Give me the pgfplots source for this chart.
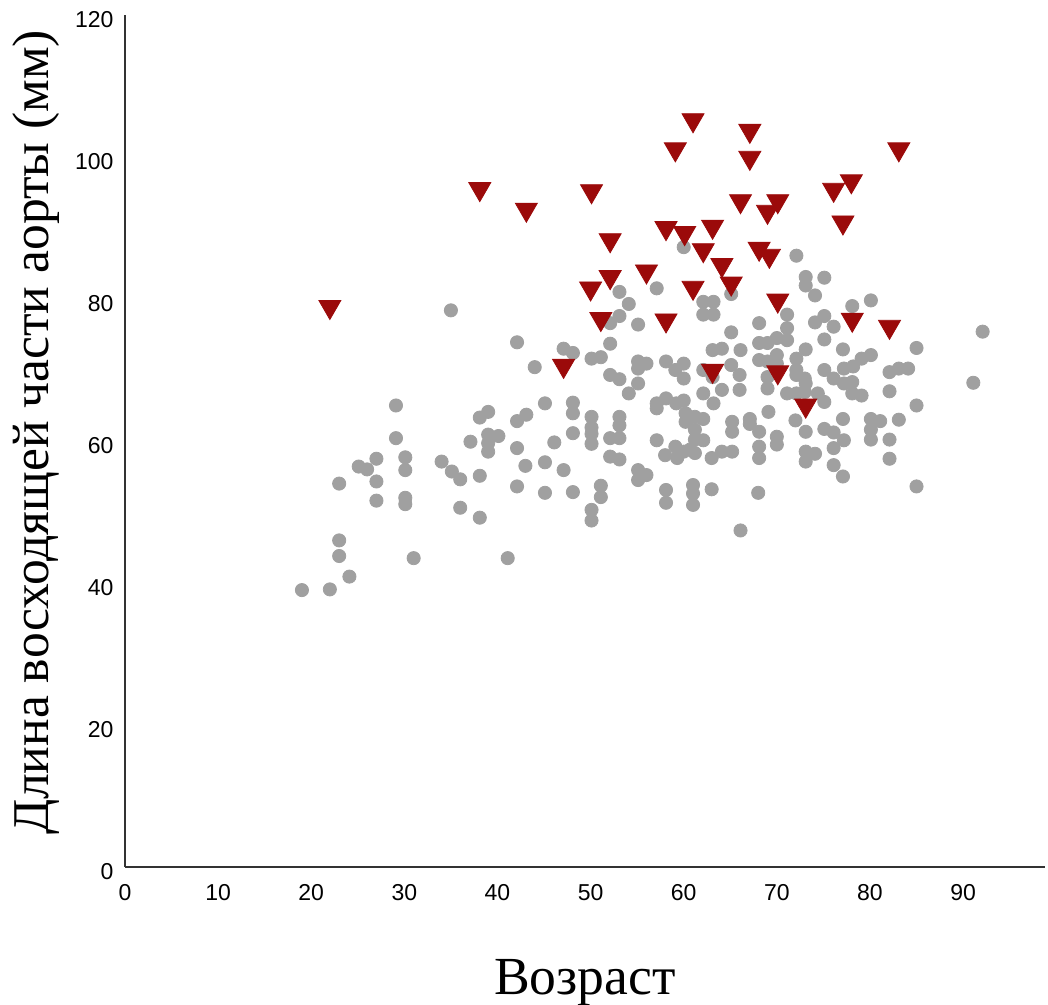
\documentclass[border=0pt]{standalone}
\usepackage{fontspec}
\setmainfont{Liberation Serif}
\newfontfamily\ticksfont{Liberation Sans}
\usepackage{pgfplots}
\pgfplotsset{compat=1.18}
\definecolor{dotgray}{RGB}{160,160,160}
\definecolor{trired}{RGB}{155,10,10}

\begin{document}
\begin{tikzpicture}
\useasboundingbox (-62.5pt,-69pt) rectangle (461.5pt,433.5pt);
\begin{axis}[
  at={(0,0)}, anchor=origin,
  scale only axis, width=460pt, height=426pt,
  xmin=0, xmax=98.8, ymin=0, ymax=120,
  axis lines=left,
  axis line style={-, draw=black!80, line width=1pt},
  xtick={0,10,...,90}, ytick={0,20,...,120},
  major tick length=0pt,
  /pgf/number format/assume math mode=true,
  tick label style={font=\ticksfont\fontsize{11.5}{12}\selectfont},
  xticklabel style={yshift=-5pt},
  yticklabel style={xshift=-2.2pt, yshift=-2.5pt},
  xlabel={Возраст},
  xlabel style={at={(axis description cs:0.5,0)}, anchor=base, yshift=-63.5pt,
    font=\fontsize{26.8}{30}\selectfont},
  ylabel={Длина восходящей части аорты (мм)},
  ylabel style={at={(axis description cs:-0.097,0.51)}, anchor=center,
    font=\fontsize{25.8}{30}\selectfont},
]
\addplot[only marks, mark=*, mark size=3.3pt, color=dotgray] coordinates {
(35,78.4) (42.1,73.9) (44,70.4) (29.1,65.0) (39,64.1) (38.1,63.3) (43.1,63.7)
(42.1,62.8) (29.1,60.4) (39,60.9) (40.1,60.7) (39,59.7) (39,58.5) (37.1,59.9)
(42.1,59.0) (27,57.5) (25.1,56.4) (26,56.0) (30.1,57.7) (30.1,55.9) (34,57.1)
(35.1,55.7) (36,54.6) (38.1,55.1) (27,54.3) (23,54.0) (43,56.5) (42.1,53.6)
(27,51.6) (30.1,52.0) (30.1,51.1) (36,50.6) (38.1,49.2) (23,46.0) (23,43.8)
(31,43.5) (41.1,43.5) (24.1,40.9) (19,39.0) (22,39.1)
(53.1,81.0) (57.1,81.5) (54.1,79.3) (53.1,77.6) (52.1,76.6) (55.1,76.4)
(52.1,73.7) (47.1,73.0) (48.1,72.4) (50.1,71.6) (51.1,71.8) (55.1,71.2)
(56,70.9) (55.1,70.2) (58.1,71.2) (59.1,70.0) (60,70.9) (60,68.8) (52.1,69.3)
(53.1,68.7) (55.1,68.1) (54.1,66.7) (57.1,65.3) (57.1,64.6) (58.1,66.0)
(59.2,65.3) (45.1,65.3) (48.1,65.4) (48.1,63.9) (50.1,63.4) (50.1,61.9)
(50.1,61.0) (50.1,59.6) (53.1,63.4) (53.1,62.2) (52.1,60.4) (53.1,60.4)
(48.1,61.1) (46.1,59.8) (45.1,57.0) (47.1,55.9) (52.1,57.8) (53.1,57.4)
(55.1,55.9) (56,55.2) (55.1,54.5) (57.1,60.1) (45.1,52.7) (48.1,52.8)
(51.1,53.7) (51.1,52.1) (50.1,50.3) (50.1,48.8) (58.1,53.1) (58.1,51.3)
(61,53.8) (61,52.6) (61,51.0) (60,87.3)
(62.1,66.7) (63.2,65.3) (64.1,67.2) (66,67.2) (66,69.3) (60.2,63.9) (61.2,63.4)
(62.1,63.1) (60.2,62.7) (61.2,61.6) (61.2,60.2) (62.1,60.1) (69.1,64.1)
(67.1,63.1) (67.1,62.4) (68.1,61.3) (65.2,62.7) (65.2,61.3) (72,62.9) (58,58.0)
(59.1,59.2) (59.3,57.6) (60,58.5) (60.7,58.8) (61.2,58.3) (63,57.6) (64.1,58.5)
(65.2,58.5) (68.1,59.2) (68.1,57.6) (70,60.6) (70,59.5) (63,53.2) (68,52.7)
(66.1,47.4)
(72.1,86.1) (73.1,83.1) (73.1,81.9) (75.1,83.0) (74.1,80.5) (80.1,79.8)
(78.1,79.0) (62.1,79.6) (63.2,79.6) (62.1,77.8) (63.2,77.8) (71.1,77.8)
(68.1,76.6) (71.1,75.9) (71.1,74.2) (70.0,74.5) (74.1,76.7) (75.1,77.6)
(76.1,76.1) (75.1,74.3) (65.1,75.3) (65.1,80.7) (68.1,73.8) (69.0,73.8)
(63.1,72.8) (64.1,73.0) (66.1,72.8) (85.0,73.1) (92.1,75.4) (77.1,72.9)
(73.1,72.9) (80.1,72.1) (79.1,71.6) (72.1,71.6) (72.1,70.0) (68.1,71.4)
(69.0,71.2) (70.0,72.1) (70.0,70.9) (62.1,70.0) (65.1,70.7) (63.1,69.0)
(69.0,69.0) (72.1,69.3) (73.0,68.8) (77.2,70.2) (78.2,70.5) (75.1,70.0)
(76.1,68.8) (77.2,68.1) (78.1,68.3) (82.1,69.7) (83.1,70.2) (84.1,70.2)
(82.1,67.0) (85.0,65.0) (78.1,66.7) (79.1,66.4) (74.4,66.7) (75.1,65.5)
(71.1,66.7) (72.1,66.7) (73.0,66.9) (73.1,68.1) (69.0,67.4) (60.0,65.7)
(73.1,61.3) (75.1,61.7) (76.1,61.2) (77.2,60.1) (77.1,63.1) (80.1,63.1)
(81.1,62.8) (80.1,61.6) (80.1,60.2) (82.1,60.2) (83.1,63.0) (82.1,57.5)
(76.1,59.0) (73.1,58.5) (74.1,58.2) (73.1,57.1) (76.1,56.6) (77.1,55.0)
(85.0,53.6) (91.1,68.2)
};
\addplot[only marks, mark=triangle*, mark size=6.35pt, color=trired,
  mark options={rotate=180}] coordinates {
(22,78.9) (38.1,95.5) (43.1,92.6) (47.1,70.6) (50.1,95.2) (50,81.5) (51.1,77.2)
(52.1,88.3) (52.1,83.1) (56,83.9) (58.1,90) (58.1,77) (59.1,101.1) (60.1,89.3)
(61,105.2) (61,81.6) (62.1,86.9) (63.1,90.2) (63.1,69.9) (64.1,84.8) (65.1,82.2)
(66.1,93.8) (67.1,103.7) (67.1,99.9) (68.1,87.1) (69,92.3) (69.2,86.1)
(70.1,93.8) (70.1,79.8) (70.1,69.7) (73.1,65) (76.1,95.4) (77.1,90.8) (78,96.6)
(78.1,77.1) (82.1,76.1) (83.1,101.1)
};
\end{axis}
\end{tikzpicture}
\end{document}
